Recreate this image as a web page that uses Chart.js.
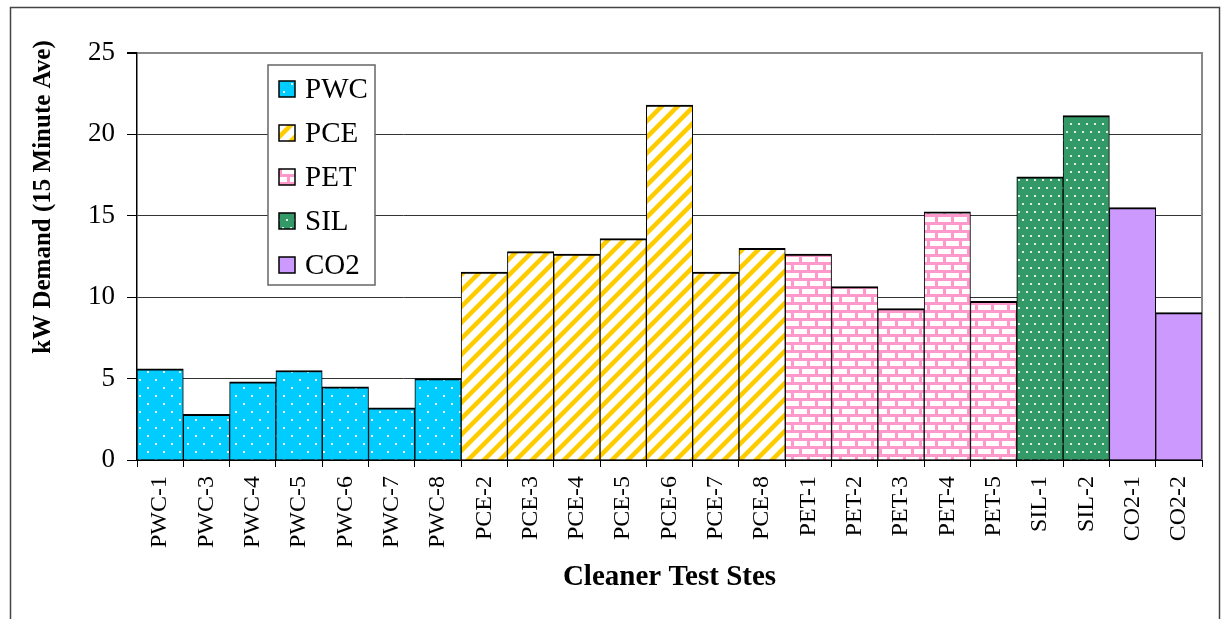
<!DOCTYPE html>
<html>
<head>
<meta charset="utf-8">
<script src="https://cdn.jsdelivr.net/npm/chart.js@4/dist/chart.umd.min.js"></script>
<style>
  html, body { margin: 0; padding: 0; background: #fff; }
  #wrap { width: 1230px; height: 619px; }
</style>
</head>
<body>
<div id="wrap"><canvas id="demandChart" width="1230" height="619"></canvas></div>
<script>
const siteLabels = [
  'PWC-1', 'PWC-3', 'PWC-4', 'PWC-5', 'PWC-6', 'PWC-7', 'PWC-8',
  'PCE-2', 'PCE-3', 'PCE-4', 'PCE-5', 'PCE-6', 'PCE-7', 'PCE-8',
  'PET-1', 'PET-2', 'PET-3', 'PET-4', 'PET-5',
  'SIL-1', 'SIL-2',
  'CO2-1', 'CO2-2'
];
const demandKw = [
  5.6, 2.8, 4.8, 5.5, 4.5, 3.2, 5.0,
  11.55, 12.8, 12.65, 13.6, 21.8, 11.55, 13.0,
  12.65, 10.65, 9.3, 15.25, 9.75,
  17.4, 21.15,
  15.5, 9.05
];
const cleanerGroups = ['PWC', 'PCE', 'PET', 'SIL', 'CO2'];
const yTicks = [0, 5, 10, 15, 20, 25];
const yTitle = 'kW Demand (15 Minute Ave)';
const xTitle = 'Cleaner Test Stes';

const ctx = document.getElementById('demandChart').getContext('2d');
Chart.defaults.font.family = "'Liberation Serif', 'Times New Roman', serif";
Chart.defaults.color = '#000';

// small repeating tiles for the Excel-like fills
function makePattern(size, draw) {
  const tile = document.createElement('canvas');
  tile.width = size;
  tile.height = size;
  draw(tile.getContext('2d'), size);
  return ctx.createPattern(tile, 'repeat');
}

const dotsCyan = makePattern(16, (g, s) => {
  g.fillStyle = '#00CCFF';
  g.fillRect(0, 0, s, s);
  g.fillStyle = '#e8fbff';
  g.fillRect(3, 3, 2, 2);
  g.fillRect(11, 11, 2, 2);
});
const stripesYellow = makePattern(16, (g, s) => {
  g.fillStyle = '#fff';
  g.fillRect(0, 0, s, s);
  g.strokeStyle = '#FFCC00';
  g.lineWidth = 4.5;
  for (const k of [-s, 0, s]) {
    g.beginPath();
    g.moveTo(k - 2, s + 2);
    g.lineTo(k + s + 2, -2);
    g.stroke();
  }
});
const bricksPink = makePattern(16, (g, s) => {
  g.fillStyle = '#FF99CC';
  g.fillRect(0, 0, s, s);
  g.fillStyle = '#fff';
  g.fillRect(2, 1, 13, 5);
  g.fillRect(10, 9, 6, 5);
  g.fillRect(0, 9, 7, 5);
});
const dotsGreen = makePattern(16, (g, s) => {
  g.fillStyle = '#339966';
  g.fillRect(0, 0, s, s);
  g.fillStyle = '#d9f0e3';
  g.fillRect(2, 3, 2, 2);
  g.fillRect(10, 3, 2, 2);
  g.fillRect(6, 11, 2, 2);
  g.fillRect(14, 11, 2, 2);
});

const groupFills = {
  PWC: dotsCyan,
  PCE: stripesYellow,
  PET: bricksPink,
  SIL: dotsGreen,
  CO2: '#CC99FF'
};

const datasets = cleanerGroups.map(grp => ({
  label: grp,
  data: siteLabels.map((s, i) => (s.startsWith(grp + '-') ? demandKw[i] : null)),
  backgroundColor: groupFills[grp],
  borderColor: '#000',
  borderWidth: { top: 2, left: 1, right: 1, bottom: 0 },
  barPercentage: 1,
  categoryPercentage: 1
}));

// page frame round the whole picture
const outerFrame = {
  id: 'outerFrame',
  beforeDraw(chart) {
    const c = chart.ctx;
    c.save();
    c.fillStyle = '#fff';
    c.fillRect(0, 0, chart.width, chart.height);
    c.strokeStyle = '#444';
    c.lineWidth = 1.5;
    c.strokeRect(10.5, 7.5, chart.width - 21, chart.height + 20);
    c.restore();
  }
};

// grey right edge of the plot area
const plotFrame = {
  id: 'plotFrame',
  beforeDatasetsDraw(chart) {
    const a = chart.chartArea;
    const c = chart.ctx;
    c.save();
    c.strokeStyle = '#888';
    c.lineWidth = 2;
    c.beginPath();
    c.moveTo(a.right, a.top - 1);
    c.lineTo(a.right, a.bottom);
    c.stroke();
    c.restore();
  }
};

// y title sits higher than the plot centre in the original
const yAxisTitle = {
  id: 'yAxisTitle',
  afterDraw(chart) {
    const a = chart.chartArea;
    const c = chart.ctx;
    c.save();
    c.translate(44, a.top + 144);
    c.rotate(-Math.PI / 2);
    c.font = "bold 25px 'Liberation Serif', serif";
    c.fillStyle = '#000';
    c.textAlign = 'center';
    c.textBaseline = 'middle';
    c.fillText(yTitle, 0, 0);
    c.restore();
  }
};

// boxed legend sitting inside the plot, like the original
const groupLegend = {
  id: 'groupLegend',
  afterDraw(chart) {
    const a = chart.chartArea;
    const c = chart.ctx;
    const x = a.left + 131, y = a.top + 12, w = 107, h = 220;
    c.save();
    c.fillStyle = '#fff';
    c.fillRect(x, y, w, h);
    c.strokeStyle = '#666';
    c.lineWidth = 1.5;
    c.strokeRect(x, y, w, h);
    c.font = "29px 'Liberation Serif', serif";
    c.textBaseline = 'middle';
    chart.data.datasets.forEach((ds, i) => {
      const cy = y + 24 + i * 44;
      c.fillStyle = ds.backgroundColor;
      c.fillRect(x + 11, cy - 8, 16, 16);
      c.strokeStyle = '#000';
      c.lineWidth = 1.5;
      c.strokeRect(x + 11, cy - 8, 16, 16);
      c.fillStyle = '#000';
      c.fillText(ds.label, x + 37, cy + 1);
    });
    c.restore();
  }
};

new Chart(ctx, {
  type: 'bar',
  data: { labels: siteLabels, datasets: datasets },
  options: {
    responsive: false,
    animation: false,
    layout: { padding: { top: 53, right: 28, left: 0, bottom: 0 } },
    plugins: {
      legend: { display: false },
      tooltip: { enabled: false }
    },
    scales: {
      x: {
        stacked: true,
        grid: { offset: true, drawOnChartArea: false, drawTicks: true, tickLength: 7, tickColor: '#000' },
        border: { color: '#000', width: 2 },
        ticks: {
          autoSkip: false,
          minRotation: 90,
          maxRotation: 90,
          padding: 9,
          color: '#000',
          font: { size: 24 }
        },
        title: {
          display: true,
          text: xTitle,
          color: '#000',
          font: { size: 29, weight: 'bold' },
          padding: { top: 0, bottom: 24 }
        },
        afterFit: s => { s.height = 159; }
      },
      y: {
        stacked: true,
        min: 0,
        max: 25,
        afterBuildTicks: s => { s.ticks = yTicks.map(v => ({ value: v })); },
        grid: {
          color: c => (c.tick && c.tick.value === 25 ? '#888' : '#333'),
          lineWidth: c => (c.tick && c.tick.value === 25 ? 2 : 1),
          tickColor: '#000',
          tickLength: 10
        },
        border: { color: '#000', width: 1.5 },
        ticks: { padding: 12, color: '#000', font: { size: 27 } },
        title: { display: false },
        afterFit: s => { s.width = 137; }
      }
    }
  },
  plugins: [outerFrame, plotFrame, yAxisTitle, groupLegend]
});
</script>
</body>
</html>
